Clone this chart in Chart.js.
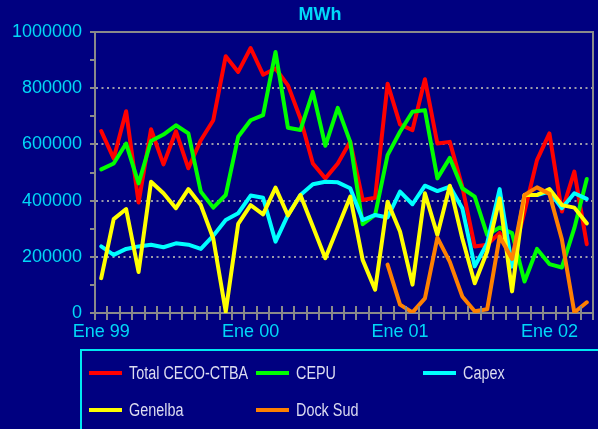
<!DOCTYPE html>
<html><head><meta charset="utf-8">
<script src="https://cdn.jsdelivr.net/npm/chart.js@4"></script>
<style>
html,body{margin:0;padding:0;background:#000080;width:598px;height:429px;overflow:hidden;}
#wrap{position:relative;width:598px;height:429px;}
#c{position:absolute;left:0;top:0;}
#title{position:absolute;left:270px;width:100px;top:4px;text-align:center;font:bold 18px "Liberation Sans",Arial,sans-serif;line-height:20px;color:#00d8f8;}
#legend{position:absolute;left:80px;top:349px;width:530px;height:100px;border:2px solid #00e8f0;box-sizing:border-box;}
.item{position:absolute;height:20px;display:flex;align-items:center;font:18px "Liberation Sans",Arial,sans-serif;color:#dcdcf0;white-space:nowrap;}
.sw{width:33px;height:4px;margin-right:7px;flex:none;}
.tx{display:inline-block;transform:scaleX(0.8);transform-origin:left center;}
</style></head>
<body><div id="wrap">
<canvas id="c" width="598" height="429"></canvas>
<div id="title">MWh</div>
<div id="legend"></div>
</div>
<script>
const categories = [
 'Ene 99','Feb 99','Mar 99','Abr 99','May 99','Jun 99','Jul 99','Ago 99','Sep 99','Oct 99','Nov 99','Dic 99',
 'Ene 00','Feb 00','Mar 00','Abr 00','May 00','Jun 00','Jul 00','Ago 00','Sep 00','Oct 00','Nov 00','Dic 00',
 'Ene 01','Feb 01','Mar 01','Abr 01','May 01','Jun 01','Jul 01','Ago 01','Sep 01','Oct 01','Nov 01','Dic 01',
 'Ene 02','Feb 02','Mar 02','Abr 02'];
const seriesNames = ['Total CECO-CTBA','CEPU','Capex','Genelba','Dock Sud'];
const seriesColors = ['#ff0000','#00ff00','#00ffff','#ffff00','#ff8000'];
const totalCecoCtba = [647000,550000,718000,393000,654000,529000,647000,515000,615000,686000,914000,858000,
 943000,848000,870000,810000,692000,532000,479000,532000,610000,402000,410000,816000,
 671000,651000,832000,603000,609000,450000,237000,243000,285000,190000,360000,544000,
 639000,361000,503000,245000];
const cepu = [511000,532000,603000,461000,612000,635000,668000,639000,432000,375000,420000,627000,
 686000,704000,929000,659000,651000,787000,595000,730000,609000,316000,349000,562000,
 645000,716000,722000,479000,552000,444000,414000,278000,304000,284000,112000,228000,
 174000,162000,302000,477000];
const capex = [237000,207000,228000,237000,243000,234000,248000,243000,228000,275000,331000,355000,
 418000,410000,254000,349000,420000,458000,467000,465000,444000,331000,349000,340000,
 432000,387000,453000,434000,450000,373000,166000,248000,441000,165000,420000,420000,
 432000,373000,426000,406000];
const genelba = [124000,334000,370000,146000,467000,426000,373000,441000,384000,265000,5000,317000,
 384000,351000,446000,347000,420000,308000,195000,304000,414000,189000,83000,396000,
 290000,101000,426000,278000,453000,266000,106000,219000,408000,77000,420000,420000,
 441000,384000,375000,319000];
const dockSud = [null,null,null,null,null,null,null,null,null,null,null,null,
 null,null,null,null,null,null,null,null,null,null,null,172000,
 30000,2000,52000,268000,182000,59000,6000,13000,272000,192000,420000,447000,
 424000,262000,2000,38000];
const yTickLabels = [0,200000,400000,600000,800000,1000000];

const seriesValues = [totalCecoCtba, cepu, capex, genelba, dockSud];
const FONT = "'Liberation Sans', Arial, sans-serif";
const LABEL_COLOR = '#00d8f8';
const AXIS_COLOR = '#8a8a8a';

const frame = {
  id:'frame',
  afterDraw(chart){
    const a = chart.chartArea, ctx = chart.ctx, xs = chart.scales.x;
    ctx.save();
    ctx.strokeStyle = AXIS_COLOR; ctx.lineWidth = 2;
    ctx.beginPath();
    ctx.moveTo(a.left, a.top); ctx.lineTo(a.right, a.top); ctx.lineTo(a.right, a.bottom);
    ctx.stroke();
    // inner half of the crossing x-axis tick marks
    const n = categories.length, w = (a.right - a.left) / n;
    ctx.beginPath();
    for (let i = 0; i <= n; i++) {
      const x = Math.round(xs.getPixelForValue(Math.min(i, n-1)) + (i < n ? -w/2 : w/2));
      ctx.moveTo(x, a.bottom); ctx.lineTo(x, a.bottom - 7);
    }
    ctx.stroke();
    ctx.restore();
  }
};

new Chart(document.getElementById('c'), {
  type:'line',
  data:{
    labels: categories,
    datasets: seriesNames.map((n,i)=>({
      label:n, data:seriesValues[i], borderColor:seriesColors[i], backgroundColor:seriesColors[i],
      borderWidth:4, pointRadius:0, tension:0, fill:false, spanGaps:false,
      order: seriesNames.length - i, borderJoinStyle:'round', borderCapStyle:'round'
    }))
  },
  options:{
    responsive:false, animation:false,
    layout:{padding:{top:32,right:5,left:0,bottom:0}},
    plugins:{legend:{display:false}, title:{display:false}, tooltip:{enabled:false}},
    scales:{
      x:{
        type:'category', offset:true,
        grid:{display:true, offset:true, drawOnChartArea:false, drawTicks:true, tickLength:7, color:AXIS_COLOR, tickColor:AXIS_COLOR, lineWidth:2},
        border:{display:true, color:AXIS_COLOR, width:2},
        ticks:{autoSkip:false, maxRotation:0, minRotation:0, color:LABEL_COLOR, font:{family:FONT,size:18}, padding:1,
          callback:function(v){ const l = this.getLabelForValue(v); return l.startsWith('Ene') ? l : ''; }},
        afterFit:(s)=>{ s.height = 116; }
      },
      y:{
        min:0, max:1000000,
        ticks:{stepSize:100000, autoSkip:false, color:LABEL_COLOR, font:{family:FONT,size:18}, padding:8,
          callback:(v)=> yTickLabels.includes(v) ? String(v) : ''},
        grid:{
          color:(ctx)=>{ const v = ctx.tick && ctx.tick.value; return (v>0 && v<1000000 && v%200000===0) ? '#9a9aaa' : 'rgba(0,0,0,0)'; },
          tickColor:AXIS_COLOR, tickLength:5, lineWidth:2, tickWidth:2
        },
        border:{display:true, color:AXIS_COLOR, width:2, dash:[2,3.5]},
        afterFit:(s)=>{ s.width = 95; }
      }
    }
  },
  plugins:[frame]
});

const leg = document.getElementById('legend');
seriesNames.forEach((n,i)=>{
  const col = i%3, row = Math.floor(i/3);
  const d = document.createElement('div');
  d.className = 'item';
  d.style.left = (7 + col*167) + 'px';
  d.style.top = (12 + row*37) + 'px';
  const sw = document.createElement('span'); sw.className='sw'; sw.style.background = seriesColors[i];
  const t = document.createElement('span'); t.className='tx'; t.textContent = n;
  d.appendChild(sw); d.appendChild(t);
  leg.appendChild(d);
});
</script>
</body></html>
